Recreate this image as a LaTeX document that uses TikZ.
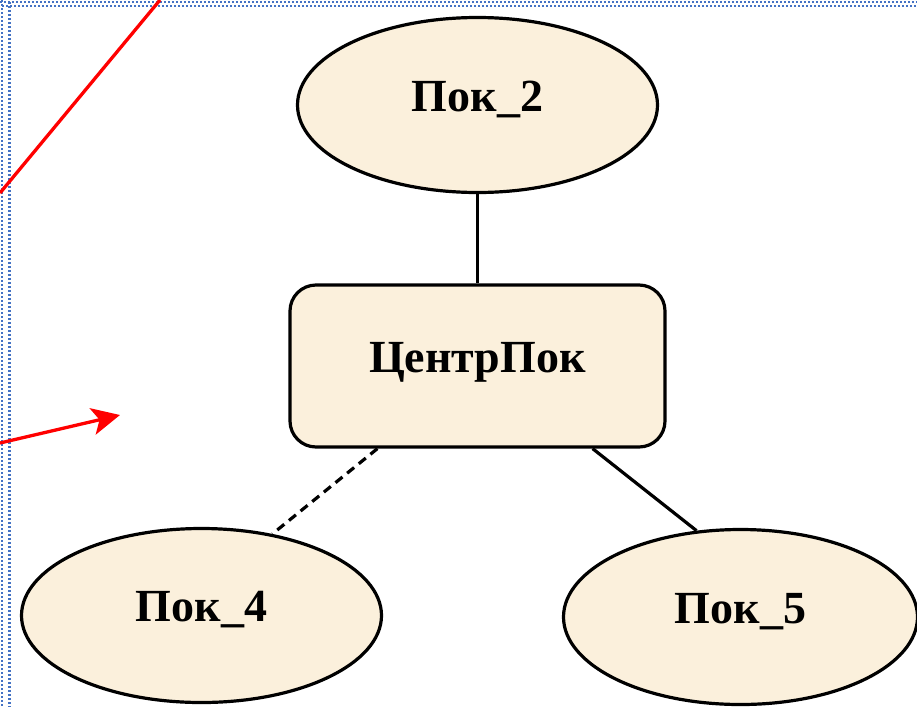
\documentclass[tikz,border=0pt]{standalone}
\usepackage{fontspec}
\setmainfont{Liberation Serif}
\usetikzlibrary{arrows.meta,shapes.geometric}
\definecolor{beige}{HTML}{FBF0DC}
\definecolor{dotblue}{HTML}{4472C4}
\begin{document}
\begin{tikzpicture}[x=1pt,y=-1pt,
  lbl/.style={font=\bfseries\fontsize{46}{50}\selectfont, text height=29pt, text depth=17pt},
  ovalbox/.style={ellipse, draw=black, line width=3.2pt, fill=beige, inner sep=0pt, lbl},
  centrebox/.style={rectangle, rounded corners=26pt, draw=black, line width=3.2pt, fill=beige, inner sep=0pt, lbl,
    minimum width=375pt, minimum height=162pt},
  edge/.style={line width=3.2pt, draw=black},
  dotline/.style={draw=dotblue, line width=2.4pt, dash pattern=on 2pt off 2pt},
  redline/.style={draw=red, line width=3.3pt}]
\useasboundingbox (0,0) rectangle (917,707);
% border dots
\draw[dotline] (0,1.7) -- (917,1.7);
\draw[dotline, dash phase=2pt] (0,5.7) -- (917,5.7);
\draw[dotline] (1.7,0) -- (1.7,707);
\draw[dotline, dash phase=2pt] (9.3,0) -- (9.3,707);
% nodes
\node[ovalbox, minimum width=360pt, minimum height=175pt] (p2) at (477.5,105) {Пок\_2};
\node[centrebox] (c) at (477.5,366) {ЦентрПок};
\node[ovalbox, minimum width=360pt, minimum height=174pt] (p4) at (201.5,615.5) {Пок\_4};
\node[ovalbox, minimum width=354pt, minimum height=175pt] (p5) at (740.5,617) {Пок\_5};
% connectors
\draw[edge] (p2.south) -- (c.north);
\draw[edge, dash pattern=on 9pt off 6pt] ([xshift=89pt]c.south west) -- (p4.49);
\draw[edge] ([xshift=-74pt]c.south east) -- (p5.117);
% red pointers
\coordinate (r1a) at (0,193);
\coordinate (r1b) at (160,0);
\draw[redline] (r1a) -- (r1b);
\coordinate (r2a) at (0,443);
\coordinate (r2b) at (120,415);
\draw[redline, -{Stealth[length=28pt, width=27pt, inset=7pt]}] (r2a) -- (r2b);
\end{tikzpicture}
\end{document}
